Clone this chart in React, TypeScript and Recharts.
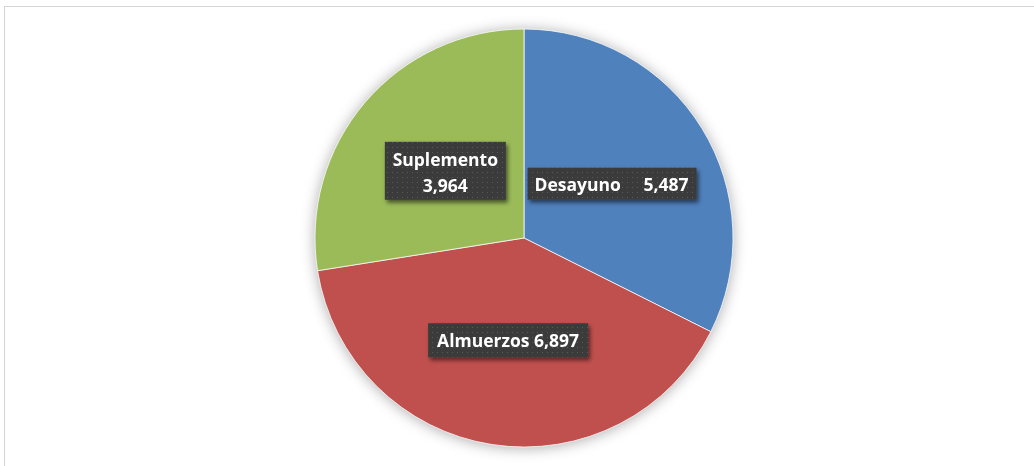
import React from "react";
import { PieChart, Pie, Cell } from "recharts";

const categories = ["Desayuno", "Almuerzos", "Suplemento"];
// numbers printed on the data labels
const amounts = [5487, 6897, 3964];
// share of the circle each slice takes in the picture (percent)
const sliceShares = [32.4, 40.1, 27.5];

const COLORS = ["#4F81BD", "#C0504D", "#9BBB59"];
const BOX_W = [169, 160, 121];
const BOX_H = [32, 34, 58];
const RAD = Math.PI / 180;

const pieData = categories.map((name, i) => ({
  name,
  value: sliceShares[i],
  amount: amounts[i],
}));

const renderLabel = (props: any) => {
  const { cx, cy, midAngle, outerRadius, index } = props;
  const r = outerRadius * 0.495;
  const x = cx + r * Math.cos(-midAngle * RAD);
  const y = cy + r * Math.sin(-midAngle * RAD);
  const w = BOX_W[index];
  const h = BOX_H[index];
  const name = categories[index];
  const val = amounts[index].toLocaleString("en-US");
  const textStyle = {
    fill: "#fff",
    fontFamily: "'Open Sans', sans-serif",
    fontWeight: 700,
    fontSize: 17.5,
  };

  let body;
  if (name === "Suplemento") {
    // two lines, centred
    body = (
      <>
        <text x={x} y={y - 5} textAnchor="middle" style={textStyle}>
          {name}
        </text>
        <text x={x} y={y + 21} textAnchor="middle" style={textStyle}>
          {val}
        </text>
      </>
    );
  } else if (name === "Desayuno") {
    // name left, value right with a wide gap
    body = (
      <>
        <text x={x - w / 2 + 7} y={y + 7} textAnchor="start" style={textStyle}>
          {name}
        </text>
        <text x={x + w / 2 - 8} y={y + 7} textAnchor="end" style={textStyle}>
          {val}
        </text>
      </>
    );
  } else {
    body = (
      <text x={x} y={y + 7} textAnchor="middle" style={textStyle}>
        {`${name} ${val}`}
      </text>
    );
  }

  return (
    <g key={`lbl-${index}`}>
      <defs>
        <pattern id={`dots-${index}`} width="5" height="5" patternUnits="userSpaceOnUse">
          <rect width="5" height="5" fill="#3b3b3b" />
          <rect x="2" y="2" width="1" height="1" fill="#5a5a5a" />
        </pattern>
        <filter id={`boxShadow-${index}`} x="-20%" y="-30%" width="140%" height="170%">
          <feDropShadow dx="2" dy="3" stdDeviation="2" floodColor="#000" floodOpacity="0.55" />
        </filter>
      </defs>
      <rect
        x={x - w / 2}
        y={y - h / 2}
        width={w}
        height={h}
        fill={`url(#dots-${index})`}
        filter={`url(#boxShadow-${index})`}
      />
      {body}
    </g>
  );
};

export default function App() {
  return (
    <div
      style={{
        position: "absolute",
        left: 0,
        top: 0,
        width: 1034,
        height: 466,
        background: "#fff",
        overflow: "hidden",
      }}
    >
      {/* chart area frame, runs off the right and bottom edges */}
      <div
        style={{
          position: "absolute",
          left: 4,
          top: 6,
          width: 1040,
          height: 480,
          border: "1px solid #d4d4d4",
        }}
      />
      <div
        style={{
          position: "absolute",
          left: 0,
          top: 0,
          filter: "drop-shadow(0px 1px 7px rgba(0,0,0,0.32))",
        }}
      >
        <PieChart width={1034} height={466} margin={{ top: 0, right: 0, bottom: 0, left: 0 }}>
          <Pie
            data={pieData}
            dataKey="value"
            nameKey="name"
            cx={524}
            cy={238}
            outerRadius={209}
            startAngle={90}
            endAngle={-270}
            stroke="#ffffff"
            strokeWidth={0.75}
            label={renderLabel}
            labelLine={false}
            isAnimationActive={false}
          >
            {pieData.map((_, i) => (
              <Cell key={`cell-${i}`} fill={COLORS[i]} />
            ))}
          </Pie>
        </PieChart>
      </div>
    </div>
  );
}
